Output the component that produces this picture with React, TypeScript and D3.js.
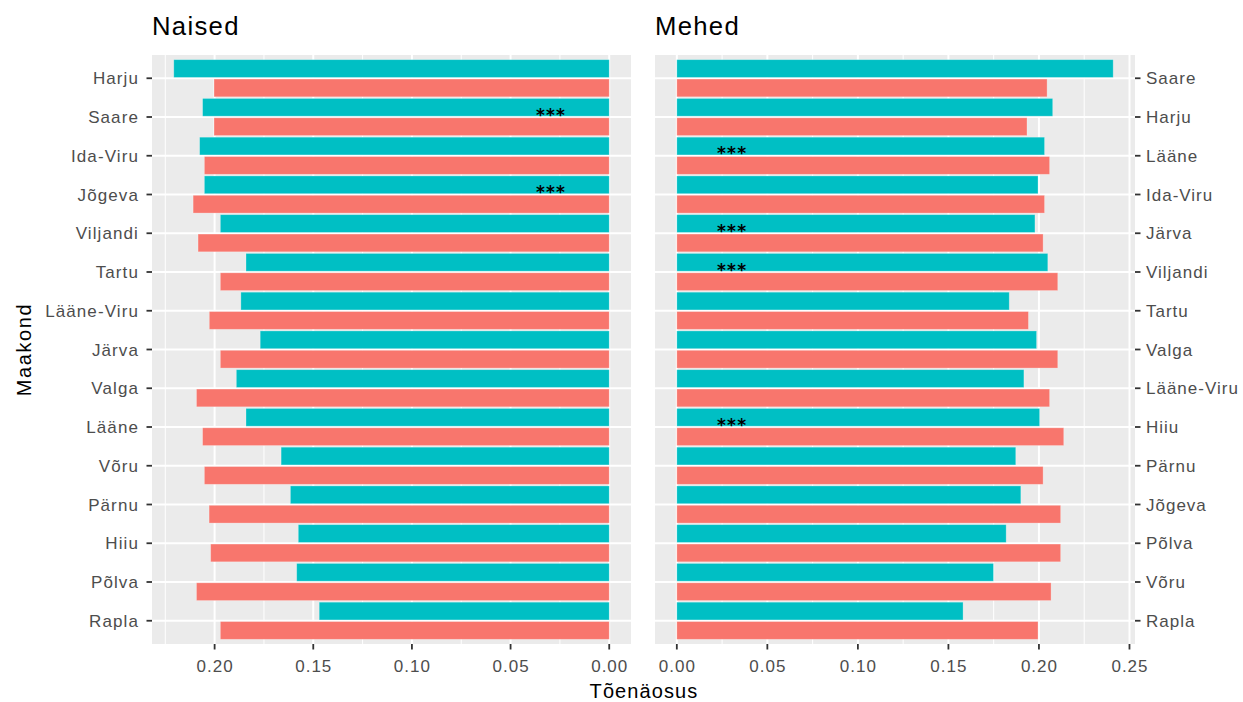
import React from "react";
import * as d3 from "d3";

// ---- data ----
const naisedMaakond = ["Harju", "Saare", "Ida-Viru", "Jõgeva", "Viljandi", "Tartu", "Lääne-Viru", "Järva", "Valga", "Lääne", "Võru", "Pärnu", "Hiiu", "Põlva", "Rapla"];
const naisedSeriesA = [0.2207, 0.2061, 0.2076, 0.2052, 0.1971, 0.1841, 0.1867, 0.1769, 0.189, 0.1841, 0.1663, 0.1616, 0.1576, 0.1584, 0.147];
const naisedSeriesB = [0.2003, 0.2003, 0.2052, 0.2109, 0.2084, 0.1971, 0.2027, 0.1971, 0.2092, 0.2061, 0.2052, 0.2028, 0.202, 0.2092, 0.1971];
const naisedSignif = ["Saare", "Jõgeva"];

const mehedMaakond = ["Saare", "Harju", "Lääne", "Ida-Viru", "Järva", "Viljandi", "Tartu", "Valga", "Lääne-Viru", "Hiiu", "Pärnu", "Jõgeva", "Põlva", "Võru", "Rapla"];
const mehedSeriesA = [0.241, 0.2076, 0.2031, 0.1995, 0.1978, 0.2049, 0.1836, 0.1987, 0.1917, 0.2004, 0.1872, 0.19, 0.1819, 0.1749, 0.1581];
const mehedSeriesB = [0.2045, 0.1934, 0.2059, 0.2031, 0.2023, 0.2104, 0.1942, 0.2104, 0.2059, 0.2137, 0.2023, 0.212, 0.212, 0.2067, 0.1995];
const mehedSignif = ["Lääne", "Järva", "Viljandi", "Hiiu"];

const signifLabel = "***";
const signifValue = 0.03;
const naisedTicks = [0, 0.05, 0.1, 0.15, 0.2];
const mehedTicks = [0, 0.05, 0.1, 0.15, 0.2, 0.25];

const colorA = "#00BFC4";
const colorB = "#F8766D";
const FONT = "'Liberation Sans', Arial, sans-serif";
const STARFONT = "'DejaVu Sans', sans-serif";

const TOP = 55;
const BOTTOM = 644;

type PanelProps = {
  title: string;
  cats: string[];
  a: number[];
  b: number[];
  signif: string[];
  ticks: number[];
  x0: number;
  x1: number;
  side: "left" | "right";
};

function Panel({ title, cats, a, b, signif, ticks, x0, x1, side }: PanelProps) {
  const max = d3.max([...a, ...b]) as number;
  const dom = side === "left" ? [max * 1.05, -max * 0.05] : [-max * 0.05, max * 1.05];
  const x = d3.scaleLinear().domain(dom).range([x0, x1]);
  const y = d3.scalePoint<string>().domain(cats).range([TOP, BOTTOM]).padding(0.6);
  const step = y.step();
  const lo = Math.min(dom[0], dom[1]);
  const hi = Math.max(dom[0], dom[1]);
  const minor: number[] = [];
  for (let i = 0; i < ticks.length + 1; i++) {
    const m = (i - 0.5) * 0.05;
    if (m > lo && m < hi) minor.push(m);
  }
  const fmt = d3.format(".2f");
  const inset = 0.8;
  const base = x(0);
  return (
    <g>
      <text x={x0} y={35} fontFamily={FONT} fontSize={25.7} letterSpacing={1.3} fill="#000">{title}</text>
      <rect x={x0} y={TOP} width={x1 - x0} height={BOTTOM - TOP} fill="#EBEBEB" />
      {minor.map((m) => (
        <line key={"mi" + m} x1={x(m)} x2={x(m)} y1={TOP} y2={BOTTOM} stroke="#fff" strokeWidth={1} />
      ))}
      {ticks.map((t) => (
        <line key={"ma" + t} x1={x(t)} x2={x(t)} y1={TOP} y2={BOTTOM} stroke="#fff" strokeWidth={2} />
      ))}
      {cats.map((c) => (
        <line key={"h" + c} x1={x0} x2={x1} y1={y(c)!} y2={y(c)!} stroke="#fff" strokeWidth={2} />
      ))}
      {cats.map((c, i) => {
        const yc = y(c)!;
        const xa = x(a[i]);
        const xb = x(b[i]);
        return (
          <g key={"bar" + c}>
            <rect x={Math.min(base, xa)} y={yc - step / 2 + inset} width={Math.abs(xa - base)} height={step / 2 - 2 * inset} fill={colorA} stroke="#ffffff" strokeOpacity={0.35} strokeWidth={0.8} />
            <rect x={Math.min(base, xb)} y={yc + inset} width={Math.abs(xb - base)} height={step / 2 - 2 * inset} fill={colorB} stroke="#ffffff" strokeOpacity={0.35} strokeWidth={0.8} />
          </g>
        );
      })}
      {signif.map((c) => (
        <text key={"s" + c} x={x(signifValue) + 1} y={y(c)! + 3.5} textAnchor="middle" fontFamily={STARFONT} fontWeight="bold" fontSize={17} letterSpacing={1.2} fill="#000">{signifLabel}</text>
      ))}
      {/* x axis */}
      {ticks.map((t) => (
        <g key={"xt" + t}>
          <line x1={x(t)} x2={x(t)} y1={BOTTOM} y2={BOTTOM + 5.5} stroke="#333333" strokeWidth={1.8} />
          <text x={x(t) + 0.5} y={671.5} textAnchor="middle" fontFamily={FONT} fontSize={17} letterSpacing={1} fill="#4D4D4D">{fmt(t)}</text>
        </g>
      ))}
      {/* y axis */}
      {cats.map((c) => {
        const yc = y(c)!;
        return side === "left" ? (
          <g key={"yt" + c}>
            <line x1={x0 - 5.5} x2={x0} y1={yc} y2={yc} stroke="#333333" strokeWidth={1.8} />
            <text x={x0 - 13} y={yc + 6} textAnchor="end" fontFamily={FONT} fontSize={17} letterSpacing={1.1} fill="#4D4D4D">{c}</text>
          </g>
        ) : (
          <g key={"yt" + c}>
            <line x1={x1} x2={x1 + 5.5} y1={yc} y2={yc} stroke="#333333" strokeWidth={1.8} />
            <text x={x1 + 11} y={yc + 6} textAnchor="start" fontFamily={FONT} fontSize={17} letterSpacing={1} fill="#4D4D4D">{c}</text>
          </g>
        );
      })}
    </g>
  );
}

export default function App() {
  return (
    <svg width={1243} height={702} style={{ position: "absolute", left: 0, top: 0, display: "block", background: "#fff" }}>
      <rect x={0} y={0} width={1243} height={702} fill="#fff" />
      <Panel title="Naised" cats={naisedMaakond} a={naisedSeriesA} b={naisedSeriesB} signif={naisedSignif} ticks={naisedTicks} x0={152} x1={631} side="left" />
      <Panel title="Mehed" cats={mehedMaakond} a={mehedSeriesA} b={mehedSeriesB} signif={mehedSignif} ticks={mehedTicks} x0={655} x1={1135} side="right" />
      <text x={644} y={697.5} textAnchor="middle" fontFamily={FONT} fontSize={20} letterSpacing={1.1} fill="#000">Tõenäosus</text>
      <text transform="translate(31,349.5) rotate(-90)" textAnchor="middle" fontFamily={FONT} fontSize={20} letterSpacing={1.6} fill="#000">Maakond</text>
    </svg>
  );
}
